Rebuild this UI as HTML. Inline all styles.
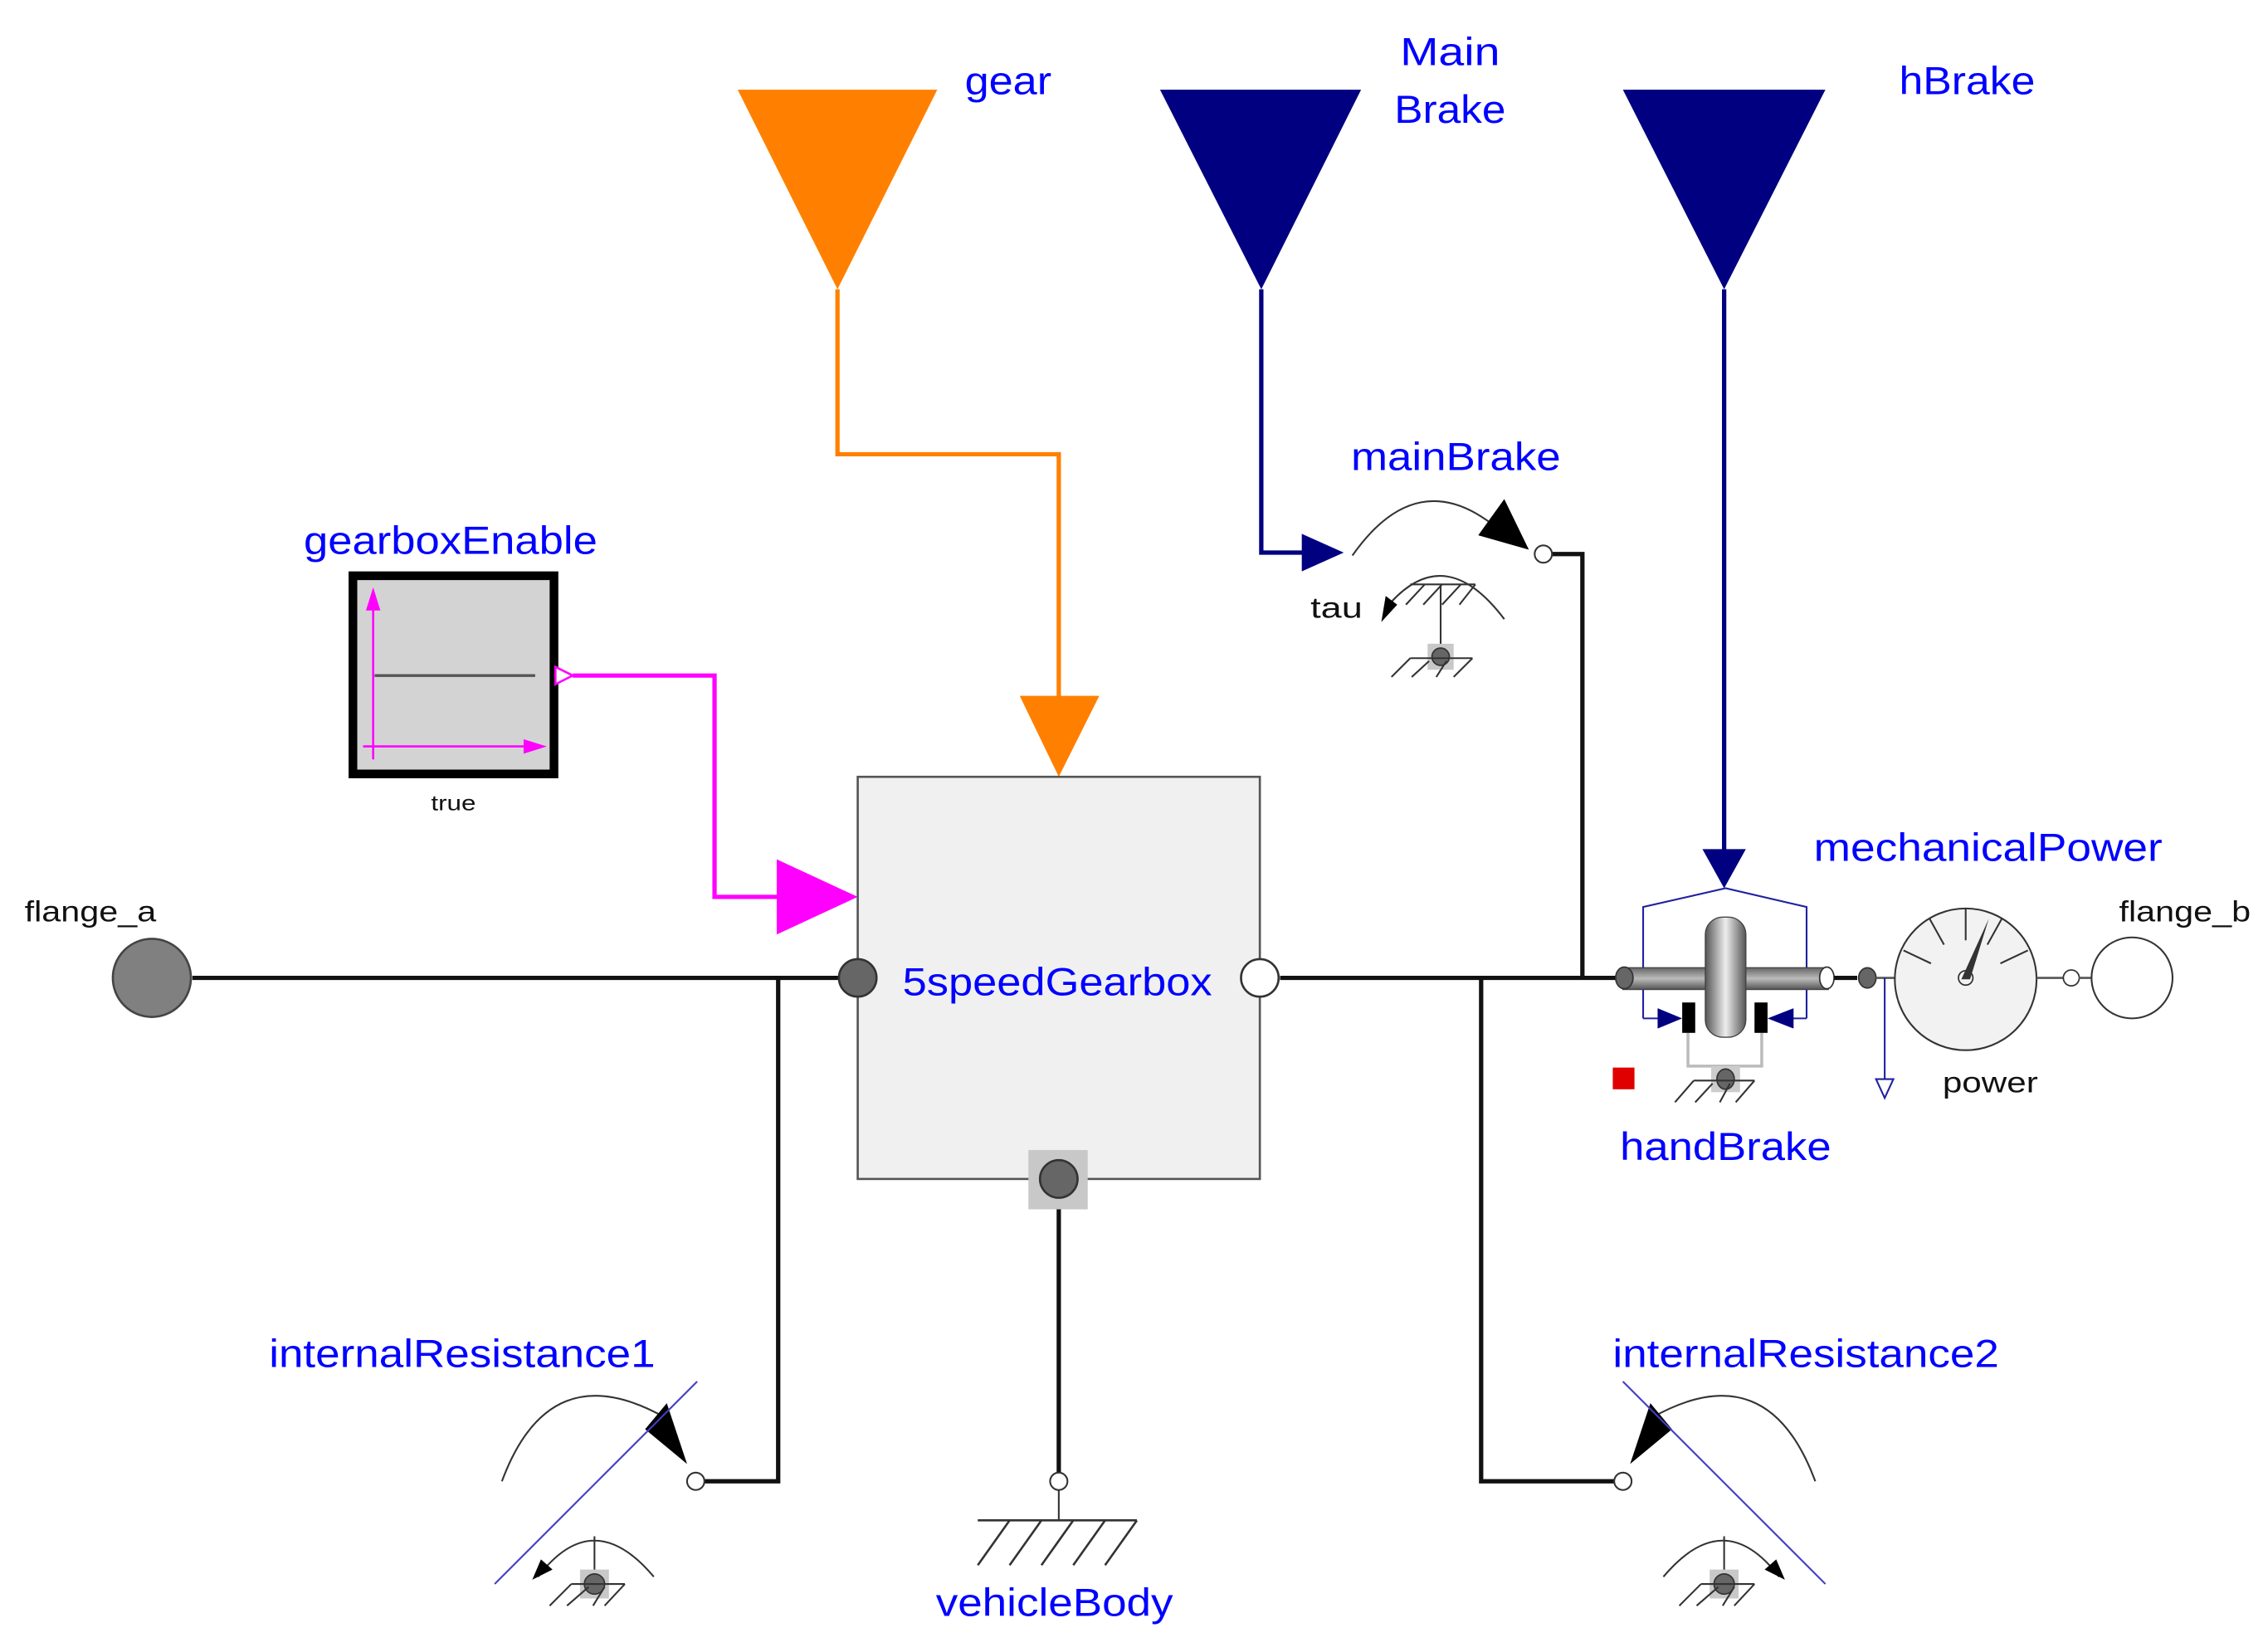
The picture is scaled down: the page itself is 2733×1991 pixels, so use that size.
<!DOCTYPE html>
<html><head><meta charset="utf-8"><style>
html,body{margin:0;padding:0;background:#fff;}
svg{display:block;}
text{font-family:"Liberation Sans","DejaVu Sans",sans-serif;}
.b{fill:#0000ff;font-size:27px;}
.k{fill:#111;font-size:20px;}
</style></head><body>
<svg width="2733" height="1991" viewBox="0 0 1568 1142" preserveAspectRatio="none" xmlns="http://www.w3.org/2000/svg">
<rect width="1568" height="1142" fill="#fff"/>
<!-- top inputs -->
<polygon points="510,62 648,62 579,200" fill="#ff8000"/>
<polyline points="579,200 579,314 732,314 732,485" fill="none" stroke="#ff8000" stroke-width="3"/>
<polygon points="705,481 760,481 732,537" fill="#ff8000"/>
<polygon points="802,62 941,62 872,200" fill="#000080"/>
<polyline points="872,200 872,382 903,382" fill="none" stroke="#000080" stroke-width="3"/>
<polygon points="900,369 929,382 900,395" fill="#000080"/>
<polygon points="1122,62 1262,62 1192,200" fill="#000080"/>
<line x1="1192" y1="200" x2="1192" y2="590" stroke="#000080" stroke-width="3"/>
<polygon points="1177,587 1207,587 1192,614" fill="#000080"/>
<!-- gearboxEnable -->
<rect x="244" y="398" width="139" height="137" fill="#d3d3d3" stroke="#000" stroke-width="6"/>
<line x1="258" y1="420" x2="258" y2="525" stroke="#ff00ff" stroke-width="1.5"/>
<polygon points="253,422 263,422 258,406" fill="#ff00ff"/>
<line x1="251" y1="516" x2="365" y2="516" stroke="#ff00ff" stroke-width="1.5"/>
<polygon points="362,511 362,521 378,516" fill="#ff00ff"/>
<line x1="259" y1="467" x2="370" y2="467" stroke="#555" stroke-width="2"/>
<polygon points="384,461 396,467 384,473" fill="#fff" stroke="#ff00ff" stroke-width="1.5"/>
<polyline points="396,467 494,467 494,620 540,620" fill="none" stroke="#ff00ff" stroke-width="3"/>
<polygon points="537,594 593,620 537,646" fill="#ff00ff"/>
<!-- gearbox -->
<rect x="593" y="537" width="278" height="278" fill="#f0f0f0" stroke="#555" stroke-width="1.5"/>
<line x1="133" y1="676" x2="580" y2="676" stroke="#111" stroke-width="3"/>
<circle cx="105" cy="676" r="27" fill="#808080" stroke="#444" stroke-width="1.5"/>
<circle cx="593" cy="676" r="13" fill="#666" stroke="#333" stroke-width="1.5"/>
<circle cx="871" cy="676" r="13" fill="#fff" stroke="#333" stroke-width="1.5"/>
<rect x="711" y="795" width="41" height="41" fill="#c8c8c8"/>
<circle cx="732" cy="815" r="13" fill="#666" stroke="#333" stroke-width="1.5"/>
<!-- left resist connection -->
<polyline points="538,676 538,1024 487,1024" fill="none" stroke="#111" stroke-width="3"/>
<circle cx="481" cy="1024" r="6" fill="#fff" stroke="#333" stroke-width="1.2"/>
<!-- internalResistance1 -->
<path d="M347,1024 Q380,935 460,980" fill="none" stroke="#333" stroke-width="1.2"/>
<polygon points="446,988 461,970 475,1012" fill="#000"/>
<line x1="342" y1="1095" x2="482" y2="955" stroke="#4040c0" stroke-width="1.2"/>
<path d="M372,1090 Q410,1040 452,1090" fill="none" stroke="#333" stroke-width="1.2"/>
<polygon points="368,1092 374,1078 382,1085" fill="#000"/>
<line x1="411" y1="1062" x2="411" y2="1088" stroke="#333" stroke-width="1.2"/>
<rect x="401" y="1085" width="20" height="20" fill="#c8c8c8"/>
<circle cx="411" cy="1095" r="7" fill="#666" stroke="#333"/>
<path d="M395,1095 H432 M395,1095 L380,1110 M407,1097 L392,1110 M418,1097 L410,1110 M432,1095 L418,1110" stroke="#333" stroke-width="1.2"/>
<!-- vehicleBody -->
<line x1="732" y1="836" x2="732" y2="1018" stroke="#111" stroke-width="3"/>
<circle cx="732" cy="1024" r="6" fill="#fff" stroke="#333" stroke-width="1.2"/>
<line x1="732" y1="1030" x2="732" y2="1051" stroke="#333" stroke-width="1.2"/>
<path d="M676,1051 H786 M698,1051 L676,1082 M720,1051 L698,1082 M742,1051 L720,1082 M764,1051 L742,1082 M786,1051 L764,1082" stroke="#333" stroke-width="1.5"/>
<!-- right connections -->
<line x1="885" y1="676" x2="1122" y2="676" stroke="#111" stroke-width="3"/>
<polyline points="1073,383 1094,383 1094,676" fill="none" stroke="#111" stroke-width="3"/>
<circle cx="1067" cy="383" r="6" fill="#fff" stroke="#333" stroke-width="1.2"/>
<polyline points="1024,676 1024,1024 1116,1024" fill="none" stroke="#111" stroke-width="3"/>
<circle cx="1122" cy="1024" r="6" fill="#fff" stroke="#333" stroke-width="1.2"/>
<!-- internalResistance2 -->
<path d="M1255,1024 Q1222,935 1142,980" fill="none" stroke="#333" stroke-width="1.2"/>
<polygon points="1156,988 1141,970 1127,1012" fill="#000"/>
<line x1="1122" y1="955" x2="1262" y2="1095" stroke="#4040c0" stroke-width="1.2"/>
<path d="M1150,1090 Q1192,1040 1230,1090" fill="none" stroke="#333" stroke-width="1.2"/>
<polygon points="1234,1092 1228,1078 1220,1085" fill="#000"/>
<line x1="1192" y1="1062" x2="1192" y2="1088" stroke="#333" stroke-width="1.2"/>
<rect x="1182" y="1085" width="20" height="20" fill="#c8c8c8"/>
<circle cx="1192" cy="1095" r="7" fill="#666" stroke="#333"/>
<path d="M1176,1095 H1213 M1176,1095 L1161,1110 M1188,1097 L1173,1110 M1199,1097 L1191,1110 M1213,1095 L1199,1110" stroke="#333" stroke-width="1.2"/>
<!-- mainBrake -->
<path d="M935,384 Q980,320 1035,365" fill="none" stroke="#333" stroke-width="1.2"/>
<polygon points="1022,370 1040,345 1057,380" fill="#000"/>
<path d="M962,416 Q1000,375 1040,428" fill="none" stroke="#333" stroke-width="1.2"/>
<polygon points="955,430 958,412 966,418" fill="#000"/>
<path d="M975,404 H1020 M985,404 L972,418 M997,404 L984,418 M1010,404 L997,418 M1020,404 L1009,418" stroke="#333" stroke-width="1.2"/>
<line x1="996" y1="404" x2="996" y2="447" stroke="#333" stroke-width="1.2"/>
<rect x="987" y="445" width="18" height="18" fill="#c8c8c8"/>
<circle cx="996" cy="454" r="6" fill="#666" stroke="#333"/>
<path d="M975,455 H1018 M975,455 L962,468 M988,457 L976,468 M1000,457 L993,468 M1018,455 L1005,468" stroke="#333" stroke-width="1.2"/>
<!-- handBrake -->
<defs>
<linearGradient id="sh" x1="0" y1="0" x2="0" y2="1"><stop offset="0" stop-color="#666"/><stop offset="0.5" stop-color="#bbb"/><stop offset="1" stop-color="#555"/></linearGradient>
<linearGradient id="dk" x1="0" y1="0" x2="1" y2="0"><stop offset="0" stop-color="#555"/><stop offset="0.5" stop-color="#eee"/><stop offset="1" stop-color="#555"/></linearGradient>
</defs>
<polyline points="1136,704 1136,627 1193,614 1249,627 1249,704" fill="none" stroke="#2020a0" stroke-width="1.2"/>
<polyline points="1136,704 1150,704" fill="none" stroke="#2020a0" stroke-width="1.2"/>
<polyline points="1249,704 1236,704" fill="none" stroke="#2020a0" stroke-width="1.2"/>
<rect x="1122" y="669" width="142" height="15" fill="url(#sh)" stroke="#444" stroke-width="0.8"/>
<ellipse cx="1123" cy="676" rx="6" ry="7.5" fill="#666" stroke="#333"/>
<ellipse cx="1263" cy="676" rx="5" ry="7.5" fill="#fff" stroke="#333"/>
<polyline points="1167,714 1167,737 1218,737 1218,714" fill="none" stroke="#bbb" stroke-width="2"/>
<rect x="1179" y="634" width="28" height="83" rx="12" fill="url(#dk)" stroke="#444" stroke-width="0.8"/>
<rect x="1163" y="693" width="9" height="21" fill="#000"/>
<rect x="1213" y="693" width="9" height="21" fill="#000"/>
<polygon points="1146,697 1163,704 1146,711" fill="#000080"/>
<polygon points="1240,697 1222,704 1240,711" fill="#000080"/>
<rect x="1183" y="737" width="20" height="18" fill="#ccc"/>
<ellipse cx="1193" cy="746" rx="6" ry="7" fill="#666" stroke="#333"/>
<path d="M1171,747 H1213 M1171,747 L1158,762 M1184,749 L1172,762 M1196,749 L1189,762 M1213,747 L1200,762" stroke="#333" stroke-width="1.2"/>
<rect x="1115" y="738" width="15" height="15" fill="#e00000"/>
<line x1="1268" y1="676" x2="1284" y2="676" stroke="#111" stroke-width="3"/>
<ellipse cx="1291" cy="676" rx="6" ry="7" fill="#666" stroke="#333"/>
<line x1="1297" y1="676" x2="1312" y2="676" stroke="#555" stroke-width="1.5"/>
<line x1="1303" y1="676" x2="1303" y2="747" stroke="#2020a0" stroke-width="1.2"/>
<polygon points="1297,746 1309,746 1303,759" fill="#fff" stroke="#2020a0" stroke-width="1.2"/>
<!-- power gauge -->
<ellipse cx="1359" cy="677" rx="49" ry="49" fill="#f2f2f2" stroke="#333" stroke-width="1.2"/>
<path d="M1359,628 V650 M1334,635 L1344,653 M1384,635 L1374,653 M1316,657 L1335,666 M1402,657 L1383,666" stroke="#333" stroke-width="1.2"/>
<polygon points="1356,677 1362,677 1375,635" fill="#333"/>
<circle cx="1359" cy="676" r="5" fill="none" stroke="#333"/>
<line x1="1408" y1="676" x2="1427" y2="676" stroke="#555" stroke-width="1.5"/>
<circle cx="1432" cy="676" r="5.5" fill="#fff" stroke="#333"/>
<line x1="1437" y1="676" x2="1447" y2="676" stroke="#555" stroke-width="1.5"/>
<circle cx="1474" cy="676" r="28" fill="#fff" stroke="#333" stroke-width="1.2"/>
<!-- labels -->
<text class="b" x="667" y="65" textLength="60" lengthAdjust="spacingAndGlyphs">gear</text>
<text class="b" x="968" y="45" textLength="69" lengthAdjust="spacingAndGlyphs">Main</text>
<text class="b" x="964" y="85" textLength="77" lengthAdjust="spacingAndGlyphs">Brake</text>
<text class="b" x="1313" y="65" textLength="94" lengthAdjust="spacingAndGlyphs">hBrake</text>
<text class="b" x="934" y="325" textLength="145" lengthAdjust="spacingAndGlyphs">mainBrake</text>
<text class="b" x="210" y="383" textLength="203" lengthAdjust="spacingAndGlyphs">gearboxEnable</text>
<text class="b" x="624" y="688" textLength="214" lengthAdjust="spacingAndGlyphs">5speedGearbox</text>
<text class="b" x="1254" y="595" textLength="241" lengthAdjust="spacingAndGlyphs">mechanicalPower</text>
<text class="b" x="1120" y="802" textLength="146" lengthAdjust="spacingAndGlyphs">handBrake</text>
<text class="b" x="186" y="945" textLength="267" lengthAdjust="spacingAndGlyphs">internalResistance1</text>
<text class="b" x="1115" y="945" textLength="267" lengthAdjust="spacingAndGlyphs">internalResistance2</text>
<text class="b" x="647" y="1117" textLength="164" lengthAdjust="spacingAndGlyphs">vehicleBody</text>
<text class="k" x="17" y="637" textLength="91" lengthAdjust="spacingAndGlyphs">flange_a</text>
<text class="k" x="1465" y="637" textLength="91" lengthAdjust="spacingAndGlyphs">flange_b</text>
<text class="k" x="906" y="427" textLength="36" lengthAdjust="spacingAndGlyphs">tau</text>
<text class="k" x="1343" y="755" textLength="66" lengthAdjust="spacingAndGlyphs">power</text>
<text class="k" x="298" y="560" style="font-size:15px" textLength="31" lengthAdjust="spacingAndGlyphs">true</text>
</svg>
</body></html>
